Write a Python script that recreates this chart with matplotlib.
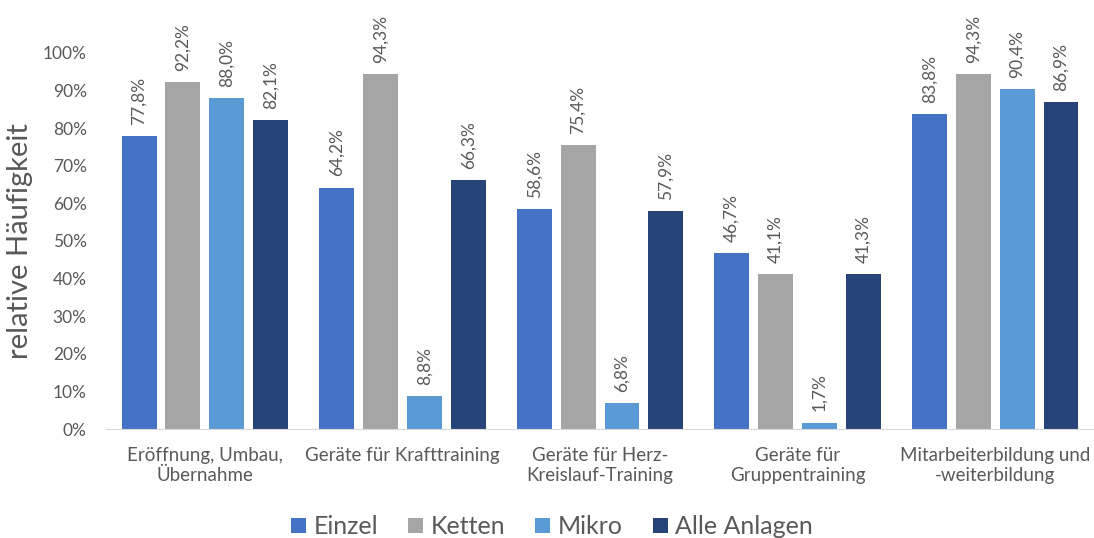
import matplotlib.pyplot as plt
import numpy as np

# data
categories = ['Eröffnung, Umbau,\nÜbernahme', 'Geräte für Krafttraining',
              'Geräte für Herz-\nKreislauf-Training', 'Geräte für\nGruppentraining',
              'Mitarbeiterbildung und\n-weiterbildung']
series = ['Einzel', 'Ketten', 'Mikro', 'Alle Anlagen']
einzel = [77.8, 64.2, 58.6, 46.7, 83.8]
ketten = [92.2, 94.3, 75.4, 41.1, 94.3]
mikro = [88.0, 8.8, 6.8, 1.7, 90.4]
alle = [82.1, 66.3, 57.9, 41.3, 86.9]
colors = ['#4472c4', '#a5a5a5', '#5b9bd5', '#264478']

plt.rcParams['font.family'] = ['Lato', 'DejaVu Sans']
text_color = '#595959'

fig = plt.figure(figsize=(10.94, 5.38), dpi=100)
ax = fig.add_axes([0.097, 0.2026, 0.903, 0.699])

x = np.arange(len(categories))
width = 0.177
step = 0.222
for i, (name, vals) in enumerate(zip(series, [einzel, ketten, mikro, alle])):
    pos = x + (i - 1.5) * step
    ax.bar(pos, vals, width=width, color=colors[i], label=name)
    # rotated value labels above each bar
    for p, v in zip(pos, vals):
        ax.annotate(f'{v:.1f}%'.replace('.', ','), (p, v), xytext=(0, 8),
                    textcoords='offset points', rotation=90, ha='center',
                    va='bottom', fontsize=12.5, color=text_color)

ax.set_xlim(-0.5, len(categories) - 0.5)
ax.set_ylim(0, 100)
ax.set_yticks(np.arange(0, 101, 10))
ax.set_yticklabels([f'{t}%' for t in range(0, 101, 10)])
ax.set_xticks(x)
ax.set_xticklabels(categories)
ax.tick_params(axis='y', length=0, pad=14, labelsize=12.5, labelcolor=text_color)
ax.tick_params(axis='x', length=0, pad=13, labelsize=13.5, labelcolor=text_color)
ax.set_ylabel('relative Häufigkeit', fontsize=21, color=text_color, labelpad=7)

for s in ['top', 'right', 'left']:
    ax.spines[s].set_visible(False)
ax.spines['bottom'].set_color('#d9d9d9')

ax.legend(loc='center', bbox_to_anchor=(0.5 - 0.097 / 2, -0.26), ncol=4,
          frameon=False, fontsize=18, handlelength=0.6, handleheight=0.6,
          handletextpad=0.3, columnspacing=1.2, labelcolor=text_color)

fig.savefig('out.png', dpi=100)
